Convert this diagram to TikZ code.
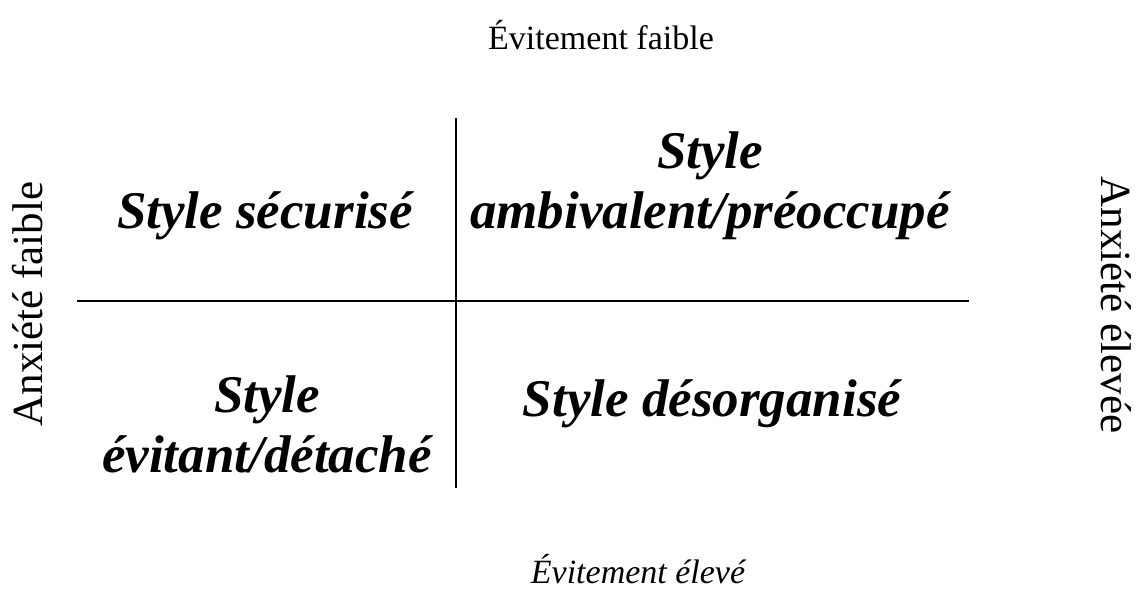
\documentclass[tikz,border=0pt]{standalone}
\usepackage{fontspec}
\setmainfont{Liberation Serif}
\usepackage{tikz}

\begin{document}
\begin{tikzpicture}[x=1pt,y=-1pt]

        \tikzstyle{every node}=[inner sep=0pt, anchor=base]
        \tikzstyle{quadrant}=[font=\fontsize{53}{60}\selectfont\bfseries\itshape, align=center]
        \tikzstyle{axislabel}=[font=\fontsize{34}{41}\selectfont]
        \tikzstyle{sidelabel}=[font=\fontsize{43}{50}\selectfont]

        \useasboundingbox (0,0) rectangle (1147,596);

        % Define end points of the two axes
        \coordinate (vtop) at (456,118);
        \coordinate (vbot) at (456,488);
        \coordinate (hleft) at (77,301);
        \coordinate (hright) at (969,301);

        % Draw the axes
        \draw [line width=2pt] (vtop) -- (vbot);
        \draw [line width=2pt] (hleft) -- (hright);

        % Add the four styles (base = last line)
        \node[quadrant] (secur) at (265,228) {Style sécurisé};
        \node[quadrant] (ambiv) at (710,228) {Style\\ambivalent/préoccupé};
        \node[quadrant] (evit) at (267,472) {Style\\évitant/détaché};
        \node[quadrant] (desorg) at (712,416) {Style désorganisé};

        % Add labels for the axes
        \node[axislabel] (evfaible) at (601,50) {Évitement faible};
        \node[axislabel, font=\fontsize{34}{41}\selectfont\itshape] (evhaut) at (638,583) {Évitement élevé};
        \node[sidelabel, rotate=90] (anxfaible) at (42,304) {Anxiété faible};
        \node[sidelabel, rotate=-90] (anxhaut) at (1101,305) {Anxiété élevée};
    \end{tikzpicture}
\end{document}
